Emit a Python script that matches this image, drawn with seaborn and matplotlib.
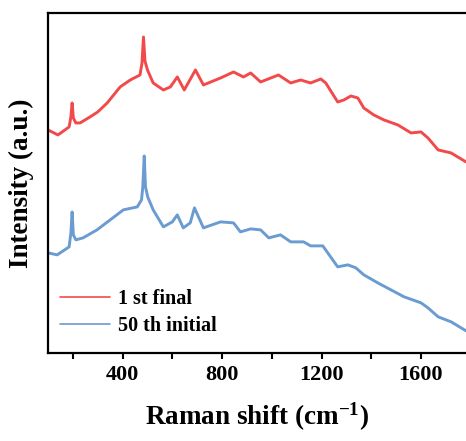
import numpy as np
import pandas as pd
import matplotlib
matplotlib.use("Agg")
import matplotlib.pyplot as plt
import seaborn as sns
from matplotlib.ticker import MultipleLocator

# Raman shift (cm-1) and intensity (a.u.)
shift_final = [100, 140, 185, 192, 197, 202, 212, 229, 269, 300, 338, 390, 431, 470, 478,
               484, 490, 500, 523, 564, 592, 620, 648, 693, 725, 794, 846, 886,
               915, 955, 1027, 1076, 1116, 1156, 1197, 1217, 1265, 1290, 1318,
               1346, 1370, 1410, 1451, 1507, 1560, 1600, 1628, 1669, 1721, 1781]
inten_final = [223, 218, 226, 236, 250, 235, 230, 230, 236, 241, 250, 266, 273, 278, 290,
               316, 292, 283, 270, 263, 266, 276, 263, 283, 268, 275, 281, 276,
               280, 271, 278, 270, 273, 270, 274, 270, 251, 253, 257,
               255, 245, 238, 233, 228, 220, 221, 215, 203, 200, 191]

shift_init = [100, 137, 185, 192, 197, 202, 212, 241, 297, 350, 403, 459, 476, 481,
              487, 492, 501, 523, 564, 600, 620, 644, 672, 689, 725, 794, 846,
              874, 915, 955, 988, 1035, 1076, 1128, 1156, 1205, 1225, 1265, 1306,
              1338, 1370, 1426, 1479, 1532, 1600, 1628, 1669, 1721, 1781]
inten_init = [100, 98, 106, 120, 141, 118, 113, 115, 123, 133, 143, 146, 153, 165,
              197, 166, 156, 143, 126, 131, 138, 125, 130, 145, 125, 131, 130,
              121, 124, 123, 115, 118, 111, 111, 107, 107, 100, 86, 88,
              85, 78, 70, 63, 56, 50, 45, 36, 31, 22]

labels = ["1 st final", "50 th initial"]
colors = ["#f24a4a", "#6a9bd1"]

sns.set_style("ticks")
plt.rcParams["font.family"] = ["Liberation Serif", "DejaVu Serif"]
plt.rcParams["font.weight"] = "bold"
plt.rcParams["mathtext.fontset"] = "custom"
plt.rcParams["mathtext.rm"] = "Liberation Serif:bold"
plt.rcParams["mathtext.bf"] = "Liberation Serif:bold"
plt.rcParams["mathtext.default"] = "bf"
for key in ["text.color", "axes.labelcolor", "xtick.color", "ytick.color", "axes.edgecolor"]:
    plt.rcParams[key] = "black"

fig = plt.figure(figsize=(4.66, 4.41), dpi=100)
ax = fig.add_axes([0.103, 0.2, 0.897, 0.7705])

for xs, ys, lab, col in zip([shift_final, shift_init], [inten_final, inten_init], labels, colors):
    df = pd.DataFrame({"shift": xs, "intensity": ys})
    sns.lineplot(data=df, x="shift", y="intensity", ax=ax, color=col, lw=2.1,
                 label=lab, sort=False)

ax.set_xlim(100, 1781)
ax.set_ylim(0, 340)
ax.xaxis.set_major_locator(MultipleLocator(400))
ax.xaxis.set_minor_locator(MultipleLocator(200))
ax.set_yticks([])
ax.tick_params(axis="x", which="both", direction="out", length=4, width=1.5,
               labelsize=16, pad=5)
for lbl in ax.get_xticklabels():
    lbl.set_fontweight("bold")
for side in ["left", "bottom", "top"]:
    ax.spines[side].set_linewidth(1.6)
ax.spines["right"].set_visible(False)

ax.set_xlabel("Raman shift (cm$^{-1}$)", fontsize=19.5, fontweight="bold", labelpad=11)
ax.set_ylabel("Intensity (a.u.)", fontsize=19.5, fontweight="bold", labelpad=10)

leg = ax.legend(loc="lower left", bbox_to_anchor=(-0.015, -0.005), frameon=False,
                handlelength=2.5, handletextpad=0.4, labelspacing=0.35,
                prop={"weight": "bold", "size": 14.5})
for h in leg.get_lines():
    h.set_linewidth(1.2)

fig.savefig("out.png", dpi=100)
